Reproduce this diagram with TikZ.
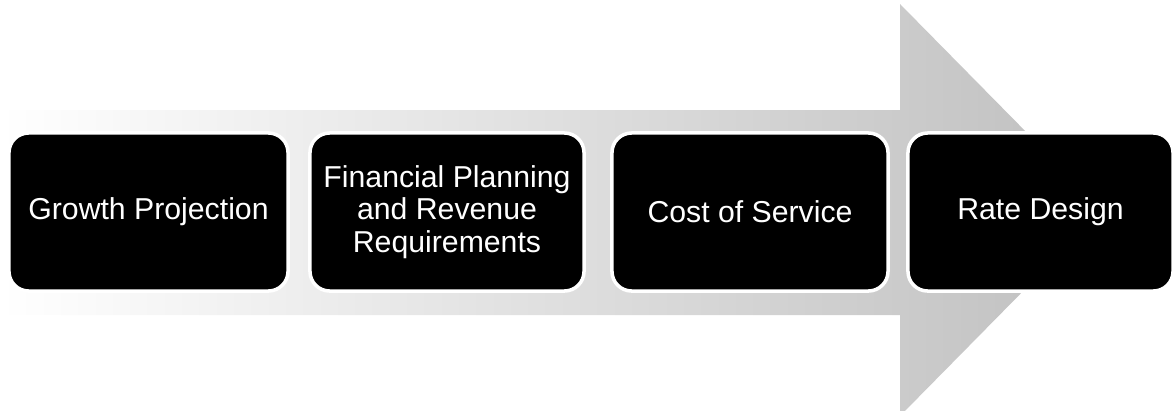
\documentclass[tikz,border=0pt]{standalone}
\usepackage{fontspec}
\setmainfont{Liberation Sans}
\begin{document}
\begin{tikzpicture}[x=0.025cm,y=-0.025cm,
    stage box/.style={rectangle,rounded corners=14pt,fill=black,draw=white,line width=2.5pt,
      text=white,inner sep=0pt,minimum height=3.95cm,align=center,
      font=\fontsize{21.5}{23}\selectfont}]

    \clip (0,0) rectangle (1176,410);

    % Process arrow
    \shade[left color=white,right color=black!25]
      (0,110) -- (900,110) -- (900,4) -- (1103,210) -- (900,416) -- (900,315) -- (0,315) -- cycle;

    % Stages
    \node[stage box,minimum width=6.975cm] (growth) at (148.5,212) {Growth Projection};
    \node[stage box,minimum width=6.85cm]  (finance) at (447,212) {Financial Planning\\and Revenue\\Requirements};
    \node[stage box,minimum width=6.9cm]   (cost) at (750,212) {Cost of Service};
    \node[stage box,minimum width=6.625cm] (rate) at (1040.5,212) {Rate Design};

\end{tikzpicture}
\end{document}
